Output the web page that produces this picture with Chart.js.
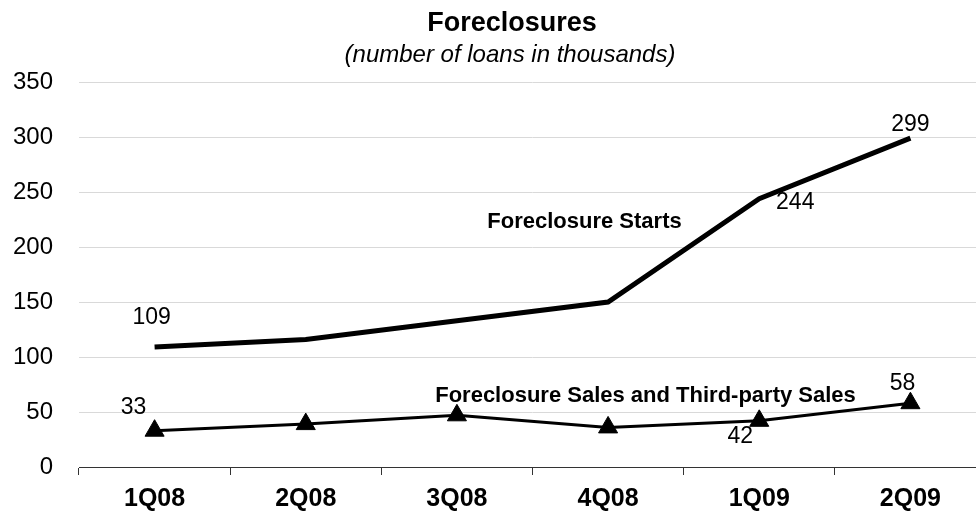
<!DOCTYPE html>
<html>
<head>
<meta charset="utf-8">
<script src="https://cdn.jsdelivr.net/npm/chart.js@4"></script>
<style>
  html, body { margin: 0; padding: 0; background: #fff; overflow: hidden; }
  canvas { display: block; }
</style>
</head>
<body>
<!-- canvas is a bit wider than the window: the plot runs past the right edge in the original -->
<canvas id="grafica" width="986" height="523"></canvas>
<script>
// data
var quarters = ["1Q08", "2Q08", "3Q08", "4Q08", "1Q09", "2Q09"];
var starts = [109, 116, 133, 150, 244, 299];
var sales = [33, 39, 47, 36, 42, 58];
// which points carry a value label
var startsLabeled = [true, false, false, false, true, true];
var salesLabeled = [true, false, false, false, true, true];

var FONT = "'Liberation Sans', Arial, sans-serif";

// label offsets from the point (px)
var startsOffsets = [[-3, -29], [0, 0], [0, 0], [0, 0], [36, 4], [0, -13]];
var salesOffsets = [[-21, -23], [0, 0], [0, 0], [0, 0], [-19, 16], [-8, -20]];

var labelsPlugin = {
  id: 'pointLabels',
  afterDraw: function(chart) {
    var ctx = chart.ctx;
    var x = chart.scales.x, y = chart.scales.y;
    ctx.save();
    ctx.fillStyle = '#000';
    ctx.textAlign = 'center';
    ctx.textBaseline = 'middle';

    // titles
    ctx.font = 'bold 27px ' + FONT;
    ctx.fillText('Foreclosures', 512, 24);
    ctx.font = 'italic 24px ' + FONT;
    ctx.fillText('(number of loans in thousands)', 510, 55);

    ctx.font = '23px ' + FONT;
    var m0 = chart.getDatasetMeta(0), m1 = chart.getDatasetMeta(1);
    for (var i = 0; i < quarters.length; i++) {
      if (startsLabeled[i]) {
        ctx.fillText(String(starts[i]), m0.data[i].x + startsOffsets[i][0], m0.data[i].y + startsOffsets[i][1]);
      }
      if (salesLabeled[i]) {
        ctx.fillText(String(sales[i]), m1.data[i].x + salesOffsets[i][0], m1.data[i].y + salesOffsets[i][1]);
      }
    }
    // series names
    ctx.font = 'bold 22px ' + FONT;
    var midX = (x.getPixelForValue(2) + x.getPixelForValue(3)) / 2;
    ctx.fillText('Foreclosure Starts', midX + 52, y.getPixelForValue(223));
    ctx.fillText('Foreclosure Sales and Third-party Sales', midX + 113, y.getPixelForValue(64.5));
    ctx.restore();
  }
};

var graph = document.getElementById("grafica");
var chart = new Chart(graph, {
  type: 'line',
  data: {
    labels: quarters,
    datasets: [{
      label: 'Foreclosure Starts',
      data: starts,
      borderColor: '#000',
      borderWidth: 5,
      pointRadius: 0,
      tension: 0
    }, {
      label: 'Foreclosure Sales and Third-party Sales',
      data: sales,
      borderColor: '#000',
      backgroundColor: '#000',
      borderWidth: 3,
      pointStyle: 'triangle',
      pointRadius: 11,
      pointBorderWidth: 1,
      tension: 0
    }]
  },
  options: {
    responsive: false,
    animation: false,
    layout: { autoPadding: false, padding: { left: 0, right: 0, top: 82, bottom: 0 } },
    plugins: {
      legend: { display: false },
      tooltip: { enabled: false }
    },
    scales: {
      x: {
        offset: true,
        grid: { offset: true, drawOnChartArea: false, drawTicks: true, tickLength: 8, color: '#333' },
        border: { color: '#333', width: 1 },
        ticks: { color: '#000', padding: 9, font: { family: FONT, size: 25, weight: 'bold' } },
        afterFit: function(s) { s.height = 56; s.paddingLeft = 0; s.paddingRight = 0; }
      },
      y: {
        min: 0,
        max: 350,
        ticks: { stepSize: 50, color: '#000', padding: 26, font: { family: FONT, size: 24 } },
        grid: { color: '#d9d9d9', drawTicks: false },
        border: { display: false },
        afterFit: function(s) { s.width = 79; }
      }
    }
  },
  plugins: [labelsPlugin]
});
</script>
</body>
</html>
